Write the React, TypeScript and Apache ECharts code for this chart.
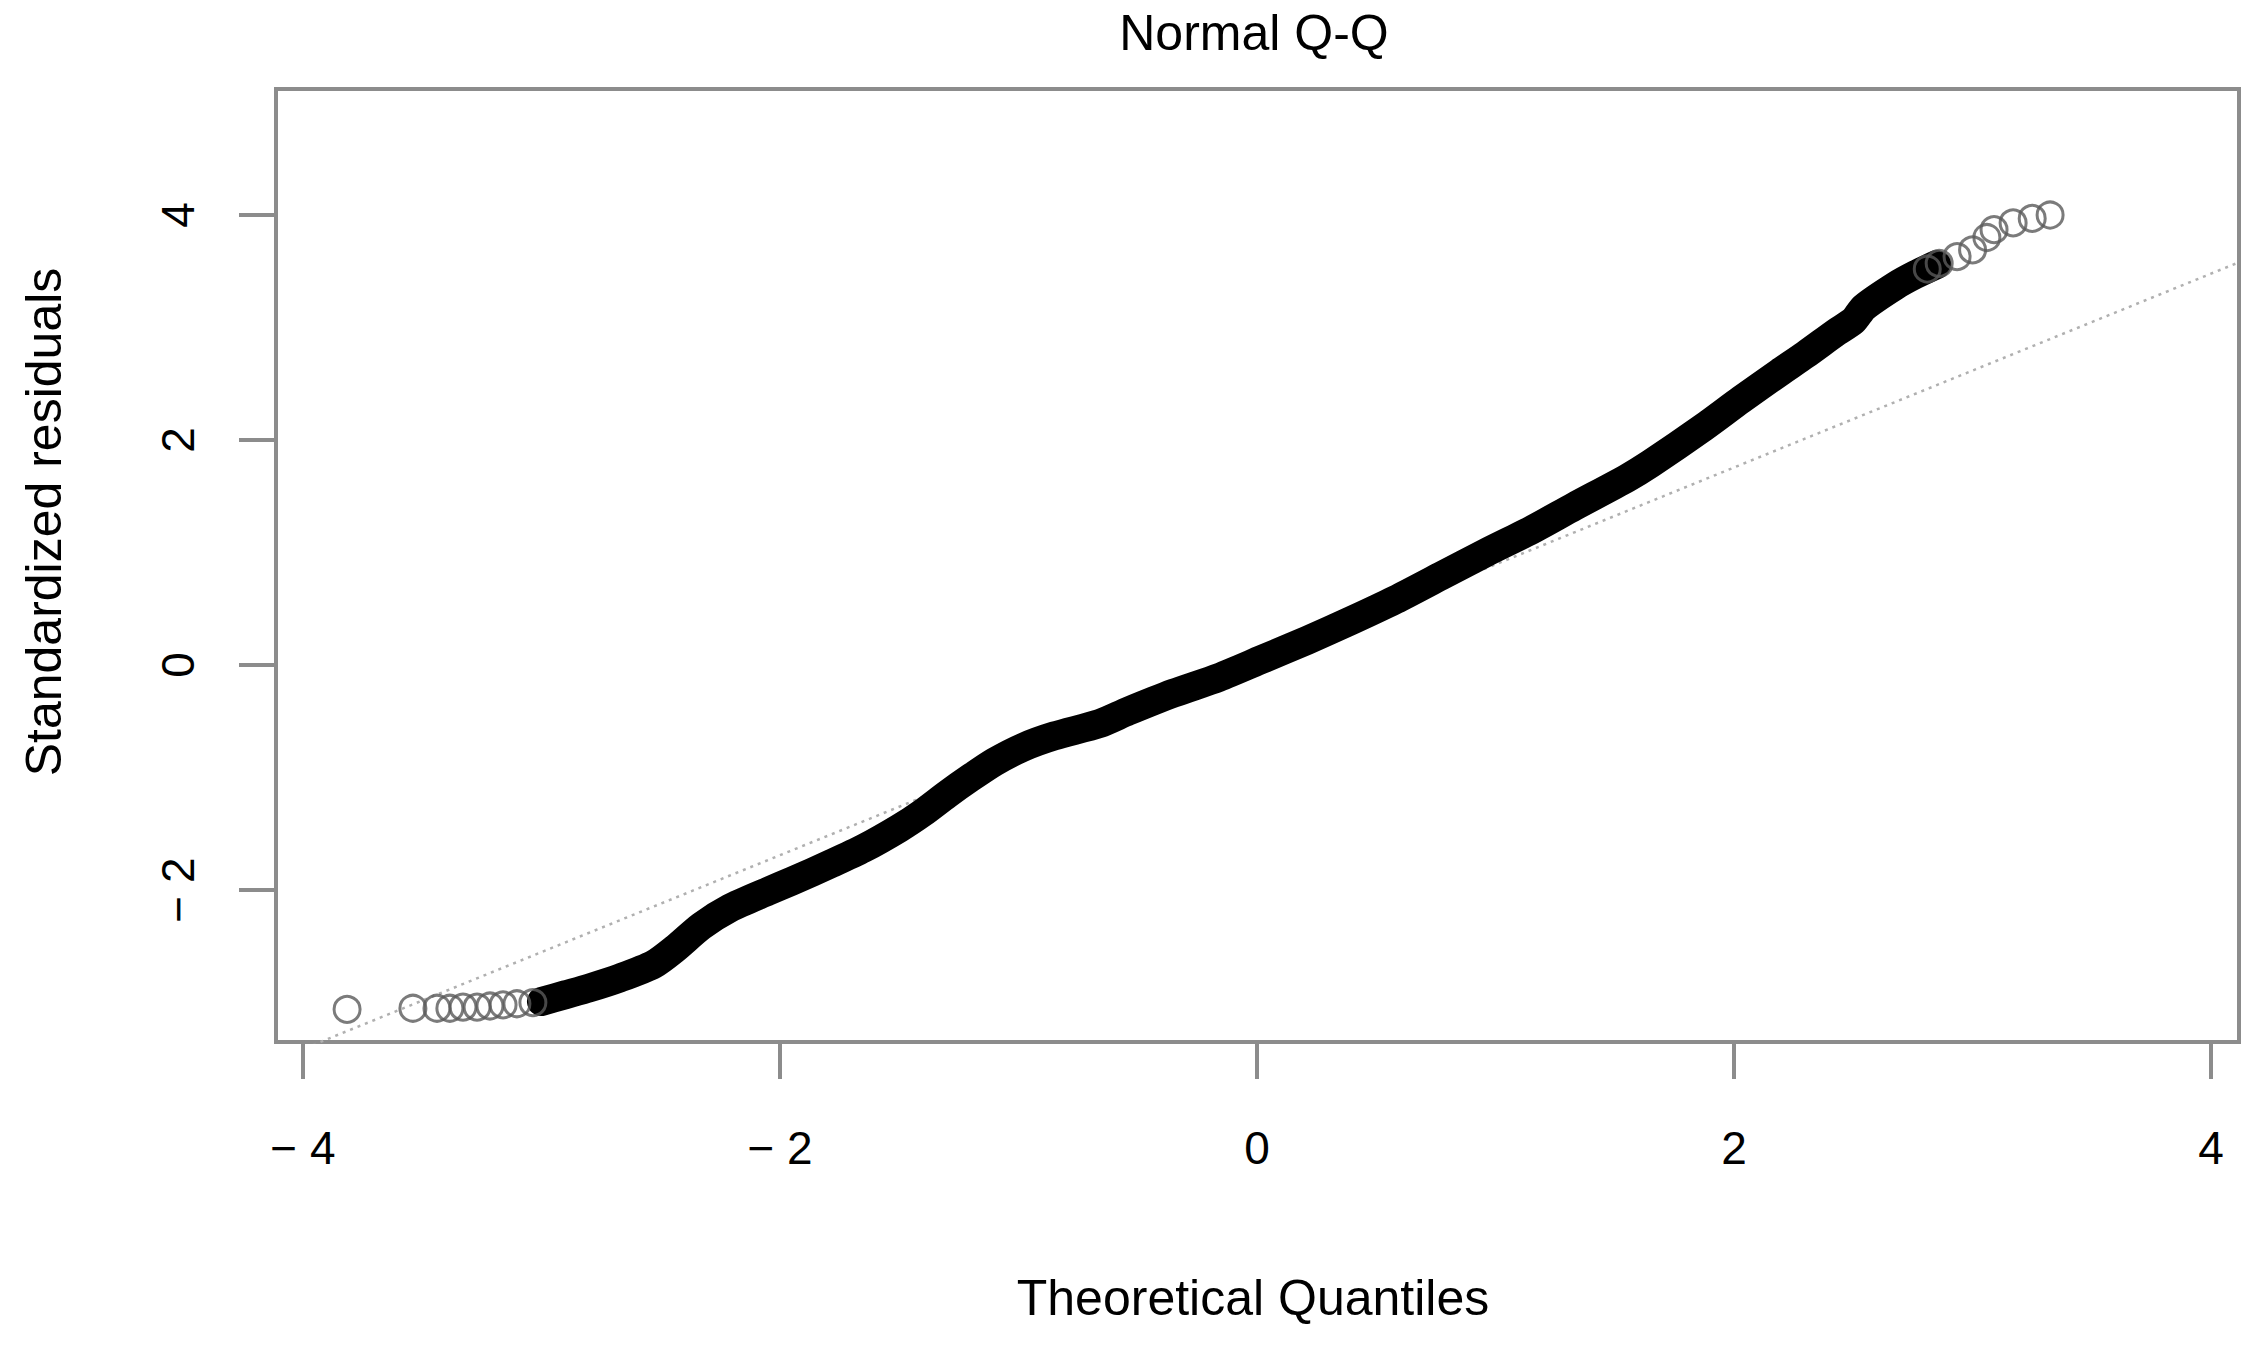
import React, { useEffect, useRef } from "react";
import * as echarts from "echarts";

const chartTitle = "Normal Q-Q";
const xAxisTitle = "Theoretical Quantiles";
const yAxisTitle = "Standardized residuals";

const xTicks = [-4, -2, 0, 2, 4];
const yTicks = [-2, 0, 2, 4];

// sparse lower tail (individual open circles)
const lowerTailX = [-3.815, -3.539, -3.438, -3.384, -3.329, -3.27, -3.216, -3.161, -3.103, -3.036];
const lowerTailY = [-3.06, -3.05, -3.05, -3.05, -3.04, -3.04, -3.03, -3.02, -3.01, -3.0];

// dense body of the sample (overlapping circles forming a solid band)
const bandX = [-3.0, -2.9, -2.8, -2.67, -2.53, -2.44, -2.33, -2.21, -2.05, -1.95, -1.78, -1.65, -1.5, -1.4, -1.3, -1.2, -1.1, -0.98, -0.85, -0.66, -0.54, -0.35, -0.16, 0.02, 0.21, 0.4, 0.58, 0.77, 0.96, 1.15, 1.33, 1.55, 1.65, 1.87, 2.03, 2.19, 2.3, 2.43, 2.5, 2.545, 2.675, 2.76, 2.85];
const bandY = [-2.99, -2.93, -2.87, -2.78, -2.66, -2.52, -2.32, -2.16, -2.01, -1.92, -1.76, -1.63, -1.45, -1.31, -1.15, -1.0, -0.86, -0.73, -0.63, -0.52, -0.41, -0.25, -0.11, 0.05, 0.22, 0.4, 0.58, 0.79, 1.0, 1.2, 1.41, 1.66, 1.79, 2.11, 2.36, 2.6, 2.76, 2.96, 3.06, 3.18, 3.37, 3.47, 3.56];

// sparse upper tail
const upperTailX = [2.81, 2.86, 2.935, 3.0, 3.06, 3.09, 3.17, 3.25, 3.325];
const upperTailY = [3.52, 3.57, 3.63, 3.69, 3.8, 3.87, 3.93, 3.97, 4.0];

// qqline end points (clipped to the plot region)
const refLineX = [-4.113, 4.117];
const refLineY = [-3.51, 3.58];

const FONT = '"Liberation Sans", Arial, Helvetica, sans-serif';
const AXIS_GREY = "#8c8c8c";

const zip = (xs: number[], ys: number[]) => xs.map((x, i) => [x, ys[i]]);
const fmt = (v: number) => (v < 0 ? "\u2212 " + Math.abs(v) : String(v));

export default function App() {
  const ref = useRef<HTMLDivElement>(null);

  useEffect(() => {
    if (!ref.current) return;
    const chart = echarts.init(ref.current, undefined, { renderer: "svg" });
    chart.setOption({
      animation: false,
      backgroundColor: "#ffffff",
      grid: {
        left: 276,
        top: 89,
        width: 1963,
        height: 953,
        show: true,
        borderColor: AXIS_GREY,
        borderWidth: 4,
        backgroundColor: "transparent",
      },
      xAxis: {
        type: "value",
        min: -4.113,
        max: 4.117,
        position: "bottom",
        axisLine: { show: false, onZero: false },
        splitLine: { show: false },
        axisTick: {
          show: true,
          inside: false,
          length: 37,
          customValues: xTicks,
          lineStyle: { color: AXIS_GREY, width: 4 },
        },
        axisLabel: {
          customValues: xTicks,
          formatter: fmt,
          margin: 83,
          fontSize: 46,
          fontFamily: FONT,
          color: "#000",
        },
      },
      yAxis: {
        type: "value",
        min: -3.35,
        max: 5.12,
        position: "left",
        axisLine: { show: false, onZero: false },
        splitLine: { show: false },
        axisTick: {
          show: true,
          inside: false,
          length: 37,
          customValues: yTicks,
          lineStyle: { color: AXIS_GREY, width: 4 },
        },
        axisLabel: {
          customValues: yTicks,
          formatter: fmt,
          rotate: 90,
          margin: 75,
          fontSize: 46,
          fontFamily: FONT,
          color: "#000",
        },
      },
      graphic: [
        {
          type: "text",
          x: 1254,
          y: 33,
          style: {
            text: chartTitle,
            font: `50px ${FONT}`,
            fill: "#000",
            align: "center",
            verticalAlign: "middle",
            textAlign: "center",
            textVerticalAlign: "middle",
          },
        },
        {
          type: "text",
          x: 1253,
          y: 1298,
          style: {
            text: xAxisTitle,
            font: `50px ${FONT}`,
            fill: "#000",
            align: "center",
            verticalAlign: "middle",
            textAlign: "center",
            textVerticalAlign: "middle",
          },
        },
        {
          type: "text",
          x: 44,
          y: 522,
          rotation: Math.PI / 2,
          style: {
            text: yAxisTitle,
            font: `50px ${FONT}`,
            fill: "#000",
            align: "center",
            verticalAlign: "middle",
            textAlign: "center",
            textVerticalAlign: "middle",
          },
        },
      ],
      series: [
        {
          name: "qqline",
          type: "line",
          data: zip(refLineX, refLineY),
          symbol: "none",
          clip: true,
          silent: true,
          z: 1,
          lineStyle: { color: "#b0b0b0", width: 2.5, type: [3, 5] },
        },
        {
          name: "band",
          type: "line",
          data: zip(bandX, bandY),
          symbol: "none",
          smooth: 0.25,
          clip: true,
          silent: true,
          z: 3,
          lineStyle: { color: "#000", width: 29, cap: "round", join: "round" },
        },
        {
          name: "lowerTail",
          type: "scatter",
          data: zip(lowerTailX, lowerTailY),
          symbol: "circle",
          symbolSize: 26,
          silent: true,
          z: 4,
          itemStyle: { color: "rgba(0,0,0,0)", borderColor: "#5a5a5a", borderWidth: 3 },
        },
        {
          name: "upperTail",
          type: "scatter",
          data: zip(upperTailX, upperTailY),
          symbol: "circle",
          symbolSize: 26,
          silent: true,
          z: 4,
          itemStyle: { color: "rgba(0,0,0,0)", borderColor: "#5a5a5a", borderWidth: 3 },
        },
      ],
    });
    return () => chart.dispose();
  }, []);

  return (
    <div
      ref={ref}
      style={{ position: "absolute", left: 0, top: 0, width: 2256, height: 1345, background: "#fff" }}
    />
  );
}
